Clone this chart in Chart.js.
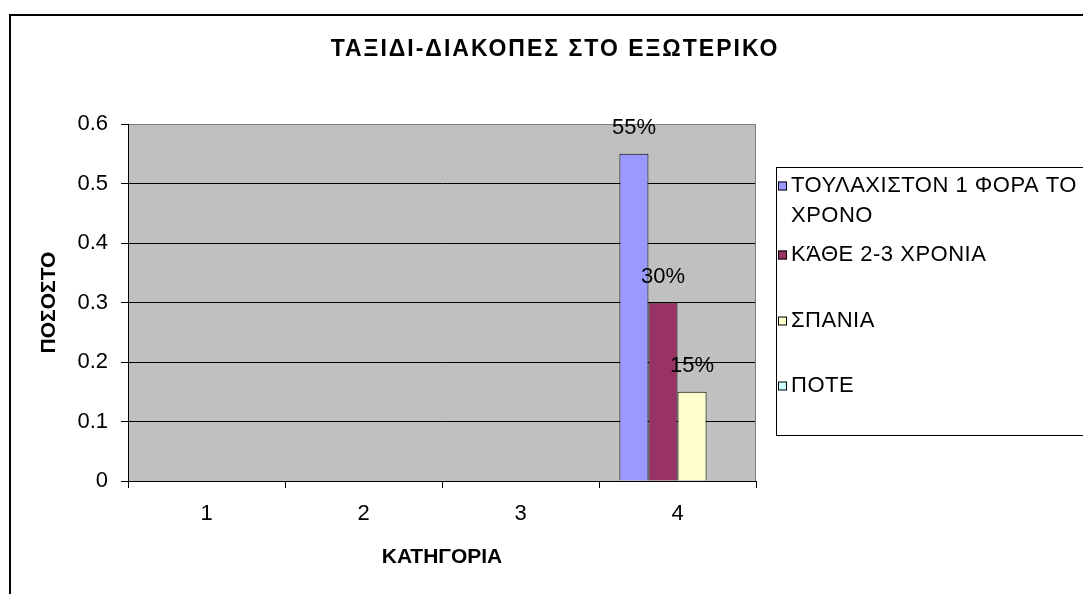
<!DOCTYPE html>
<html>
<head>
<meta charset="utf-8">
<script src="https://cdn.jsdelivr.net/npm/chart.js@4/dist/chart.umd.min.js"></script>
<style>
  html, body { margin: 0; padding: 0; background: #ffffff; }
  canvas { display: block; }
</style>
</head>
<body>
<canvas id="chart" width="1083" height="594"></canvas>
<script>
// Survey: how often respondents travel / holiday abroad
const chartTitle = 'ΤΑΞΙΔΙ-ΔΙΑΚΟΠΕΣ ΣΤΟ ΕΞΩΤΕΡΙΚΟ';
const xAxisTitle = 'ΚΑΤΗΓΟΡΙΑ';
const yAxisTitle = 'ΠΟΣΟΣΤΟ';

const categories = ['1', '2', '3', '4'];
const yTickLabels = ['0', '0.1', '0.2', '0.3', '0.4', '0.5', '0.6'];

const seriesNames = ['ΤΟΥΛΑΧΙΣΤΟΝ 1 ΦΟΡΑ ΤΟ ΧΡΟΝΟ', 'ΚΆΘΕ 2-3 ΧΡΟΝΙΑ', 'ΣΠΑΝΙΑ', 'ΠΟΤΕ'];
const onceAYear   = [null, null, null, 0.55];
const every2to3   = [null, null, null, 0.30];
const rarely      = [null, null, null, 0.15];
const never       = [null, null, null, 0];
const seriesColors = ['#9999FF', '#993366', '#FFFFCC', '#CCFFFF'];

const FONT = "'Liberation Sans', Arial, sans-serif";

// Grey plot background plus the thin frame on its right edge
const plotBackground = {
  id: 'plotBackground',
  beforeDraw(chart) {
    const { ctx, chartArea: a } = chart;
    ctx.save();
    ctx.fillStyle = '#ffffff';
    ctx.fillRect(0, 0, chart.width, chart.height);
    ctx.fillStyle = '#C0C0C0';
    ctx.fillRect(a.left, a.top, a.right - a.left, a.bottom - a.top);
    ctx.restore();
  },
  beforeDatasetsDraw(chart) {
    const { ctx, chartArea: a } = chart;
    ctx.save();
    ctx.strokeStyle = '#808080';
    ctx.lineWidth = 1;
    ctx.beginPath();
    ctx.moveTo(Math.round(a.right) - 0.5, a.top);
    ctx.lineTo(Math.round(a.right) - 0.5, a.bottom);
    ctx.stroke();
    ctx.restore();
  }
};

// Percentage labels above each bar
const valueLabels = {
  id: 'valueLabels',
  afterDatasetsDraw(chart) {
    const { ctx } = chart;
    ctx.save();
    ctx.font = '22px ' + FONT;
    ctx.fillStyle = '#000';
    ctx.textAlign = 'center';
    ctx.textBaseline = 'middle';
    chart.data.datasets.forEach((ds, i) => {
      chart.getDatasetMeta(i).data.forEach((bar, j) => {
        const v = ds.data[j];
        if (v === null || v === 0) return;
        ctx.fillText(Math.round(v * 100) + '%', bar.x, bar.y - 25.5);
      });
    });
    ctx.restore();
  }
};

// Frame, title and the boxed legend on the right
const frameAndLegend = {
  id: 'frameAndLegend',
  afterDraw(chart) {
    const { ctx } = chart;
    ctx.save();
    // outer chart frame (continues past the canvas edges)
    ctx.strokeStyle = '#000';
    ctx.lineWidth = 2;
    ctx.strokeRect(10, 15, 2000, 2000);

    // title
    ctx.font = 'bold 23px ' + FONT;
    ctx.letterSpacing = '2px';
    ctx.fillStyle = '#000';
    ctx.textAlign = 'center';
    ctx.textBaseline = 'middle';
    ctx.fillText(chartTitle, 555, 50);

    // legend box
    ctx.lineWidth = 1;
    ctx.strokeRect(776.5, 167.5, 400, 268);
    const rowY = [185.5, 254.5, 320.5, 385.5];
    ctx.font = '22px ' + FONT;
    ctx.letterSpacing = '0.5px';
    ctx.textAlign = 'left';
    chart.data.datasets.forEach((ds, i) => {
      const y = rowY[i];
      ctx.fillStyle = ds.backgroundColor;
      ctx.fillRect(778, Math.round(y) - 4.5, 9, 9);
      ctx.strokeStyle = '#000';
      ctx.strokeRect(778.5, Math.round(y) - 4, 8, 8);
      ctx.fillStyle = '#000';
      // wrap long names within the legend width
      const words = ds.label.split(' ');
      let line = '';
      let ly = y;
      words.forEach(w => {
        const test = line ? line + ' ' + w : w;
        if (ctx.measureText(test).width > 292 && line) {
          ctx.fillText(line, 791, ly);
          line = w;
          ly += 30;
        } else {
          line = test;
        }
      });
      ctx.fillText(line, 791, ly);
    });
    ctx.restore();
  }
};

const datasetValues = [onceAYear, every2to3, rarely, never];

new Chart(document.getElementById('chart'), {
  type: 'bar',
  data: {
    labels: categories,
    datasets: datasetValues.map((vals, i) => ({
      label: seriesNames[i],
      data: vals,
      backgroundColor: seriesColors[i],
      borderColor: '#000',
      borderWidth: 1,
      categoryPercentage: 0.74,
      barPercentage: 1.0
    }))
  },
  options: {
    responsive: false,
    animation: false,
    devicePixelRatio: 1,
    layout: { padding: { left: 0, top: 124, right: 327, bottom: 0 } },
    plugins: {
      legend: { display: false },
      title: { display: false },
      tooltip: { enabled: false }
    },
    scales: {
      x: {
        offset: true,
        grid: {
          offset: true,
          drawOnChartArea: false,
          drawTicks: true,
          tickLength: 7,
          tickColor: '#000'
        },
        border: { display: true, color: '#000', width: 1 },
        ticks: { color: '#000', font: { family: FONT, size: 22 }, padding: 13 },
        title: {
          display: true,
          text: xAxisTitle,
          color: '#000',
          font: { family: FONT, size: 21, weight: 'bold' },
          padding: { top: 0, bottom: 24 }
        },
        afterFit(scale) { scale.height = 113; }
      },
      y: {
        min: 0,
        max: 0.6,
        grid: {
          color: ctx => (ctx.tick && ctx.tick.value >= 0.6 ? '#808080' : '#000'),
          tickColor: '#000',
          tickLength: 7,
          drawTicks: true
        },
        border: { display: true, color: '#000', width: 1 },
        ticks: {
          stepSize: 0.1,
          color: '#000',
          font: { family: FONT, size: 22 },
          padding: 13,
          callback: (value, index) => yTickLabels[index]
        },
        title: {
          display: true,
          text: yAxisTitle,
          color: '#000',
          font: { family: FONT, size: 21, weight: 'bold' },
          padding: { top: 37, bottom: 0 }
        },
        afterFit(scale) { scale.width = 128; }
      }
    }
  },
  plugins: [plotBackground, valueLabels, frameAndLegend]
});
</script>
</body>
</html>
